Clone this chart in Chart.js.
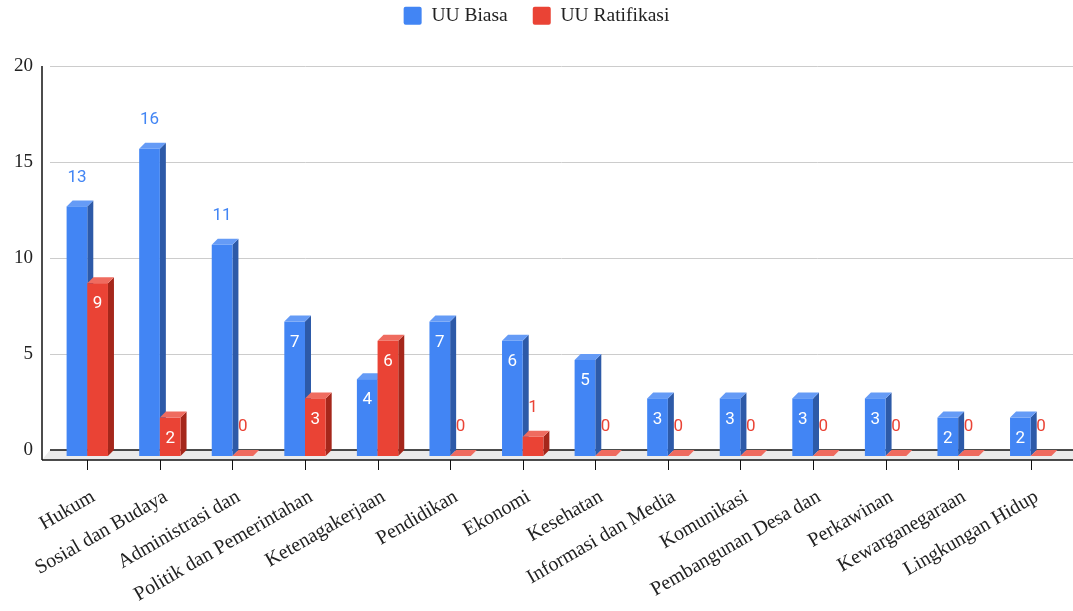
<!DOCTYPE html>
<html>
<head>
<meta charset="utf-8">
<script src="https://cdn.jsdelivr.net/npm/chart.js@4"></script>
<style>
  html, body { margin: 0; padding: 0; background: #fff; }
  #wrap { width: 1073px; height: 611px; }
</style>
</head>
<body>
<div id="wrap"><canvas id="chart"></canvas></div>
<script>
// values
const categories = ['Hukum', 'Sosial dan Budaya', 'Administrasi dan', 'Politik dan Pemerintahan', 'Ketenagakerjaan', 'Pendidikan', 'Ekonomi', 'Kesehatan', 'Informasi dan Media', 'Komunikasi', 'Pembangunan Desa dan', 'Perkawinan', 'Kewarganegaraan', 'Lingkungan Hidup'];
const uuBiasa = [13, 16, 11, 7, 4, 7, 6, 5, 3, 3, 3, 3, 2, 2];
const uuRatifikasi = [9, 2, 0, 3, 6, 0, 1, 0, 0, 0, 0, 0, 0, 0];
const yTicks = [0, 5, 10, 15, 20];

const DEPTH = 6; // fake 3d offset in px
const serif = "'Liberation Serif', 'DejaVu Serif', serif";

const shades = [
    { front: '#4285F4', side: '#2d5aa8', top: '#659bf6', label: '#4285F4' },
    { front: '#EA4335', side: '#a5271b', top: '#ef6b5f', label: '#EA4335' }
];

function line(ctx, x1, y1, x2, y2) {
    ctx.beginPath();
    ctx.moveTo(x1, y1);
    ctx.lineTo(x2, y2);
    ctx.stroke();
}

function poly(ctx, pts, color) {
    ctx.fillStyle = color;
    ctx.beginPath();
    ctx.moveTo(pts[0][0], pts[0][1]);
    for (let k = 1; k < pts.length; k++) ctx.lineTo(pts[k][0], pts[k][1]);
    ctx.closePath();
    ctx.fill();
}

// make the legend take more room so the plot starts lower
const legendRoom = {
    id: 'legendRoom',
    beforeInit(chart) {
        const fit = chart.legend.fit;
        chart.legend.fit = function() {
            fit.bind(chart.legend)();
            this.height = 85;
        };
    }
};

// draws the floor, back grid and 3d bars instead of the flat bars
const bars3d = {
    id: 'bars3d',
    beforeDatasetsDraw(chart) {
        const ctx = chart.ctx;
        const area = chart.chartArea;
        const xs = chart.scales.x, ys = chart.scales.y;
        const d = DEPTH;
        const zero = ys.getPixelForValue(0);
        const front = zero + d + 4;
        ctx.save();

        // back grid lines
        ctx.strokeStyle = '#cccccc';
        ctx.lineWidth = 1;
        yTicks.forEach(t => {
            if (t === 0) return;
            const py = Math.round(ys.getPixelForValue(t)) + 0.5;
            line(ctx, area.left - 7, py, area.right, py);
        });

        // floor
        poly(ctx, [[area.left - 7, zero], [area.right, zero], [area.right, front], [area.left - 15, front]], '#ebebeb');
        ctx.strokeStyle = '#111';
        ctx.lineWidth = 1.5;
        line(ctx, area.left - 7, zero, area.right, zero);
        line(ctx, area.left - 15, front, area.right, front);
        line(ctx, area.left - 15, area.top, area.left - 15, front);
        ctx.lineWidth = 1;
        categories.forEach((c, i) => {
            const px = Math.round(xs.getPixelForTick(i) - d) + 0.5;
            line(ctx, px, front, px, front + 10);
        });

        // bars, category by category so red front covers blue side
        categories.forEach((c, i) => {
            chart.data.datasets.forEach((ds, di) => {
                const el = chart.getDatasetMeta(di).data[i];
                const s = shades[di];
                const w = el.width;
                const bx = el.x - w / 2 - d;
                const top = el.y + d;
                const bot = el.base + d;
                if (bot - top > 0) {
                    poly(ctx, [[bx + w, top], [bx + w + d, top - d], [bx + w + d, bot - d], [bx + w, bot]], s.side);
                }
                poly(ctx, [[bx, top], [bx + d, top - d], [bx + w + d, top - d], [bx + w, top]], s.top);
                if (bot - top > 0) {
                    ctx.fillStyle = s.front;
                    ctx.fillRect(bx, top, w, bot - top);
                }
            });
        });

        // value labels
        ctx.font = '17px Roboto';
        ctx.textAlign = 'center';
        ctx.textBaseline = 'middle';
        chart.data.datasets.forEach((ds, di) => {
            const meta = chart.getDatasetMeta(di);
            ds.data.forEach((v, i) => {
                const el = meta.data[i];
                const cx = el.x - DEPTH;
                const inside = String(v).length === 1 && v >= 2;
                if (inside) {
                    ctx.fillStyle = '#ffffff';
                    ctx.fillText(String(v), cx, el.y + DEPTH + 21);
                } else {
                    ctx.fillStyle = shades[di].label;
                    ctx.fillText(String(v), cx, el.y - 23);
                }
            });
        });

        ctx.restore();
        return false;
    }
};

new Chart(document.getElementById('chart'), {
    type: 'bar',
    data: {
        labels: categories,
        datasets: [
            { label: 'UU Biasa', data: uuBiasa, backgroundColor: '#4285F4', categoryPercentage: 0.57, barPercentage: 1 },
            { label: 'UU Ratifikasi', data: uuRatifikasi, backgroundColor: '#EA4335', categoryPercentage: 0.57, barPercentage: 1 }
        ]
    },
    options: {
        responsive: true,
        maintainAspectRatio: false,
        animation: false,
        layout: { padding: { top: -19, left: 0, right: 0, bottom: 0 } },
        plugins: {
            legend: {
                position: 'top',
                labels: {
                    boxWidth: 18,
                    boxHeight: 18,
                    padding: 25,
                    color: '#222',
                    font: { family: serif, size: 19.5 },
                    useBorderRadius: true,
                    borderRadius: 2
                }
            },
            tooltip: { enabled: false }
        },
        scales: {
            x: {
                grid: { display: false, drawTicks: false },
                border: { display: false },
                ticks: {
                    autoSkip: false,
                    maxRotation: 30,
                    minRotation: 30,
                    padding: 35,
                    color: '#222',
                    font: { family: serif, size: 20 }
                },
                afterFit(s) { s.height = 161; s.paddingLeft = 0; s.paddingRight = 0; }
            },
            y: {
                min: 0,
                max: 20,
                ticks: { stepSize: 5, padding: 24, color: '#222', font: { family: serif, size: 19 } },
                grid: { display: false, drawTicks: false },
                border: { display: false },
                afterFit(s) { s.width = 57; s.paddingTop = 0; s.paddingBottom = 0; }
            }
        }
    },
    plugins: [legendRoom, bars3d]
});
</script>
</body>
</html>
